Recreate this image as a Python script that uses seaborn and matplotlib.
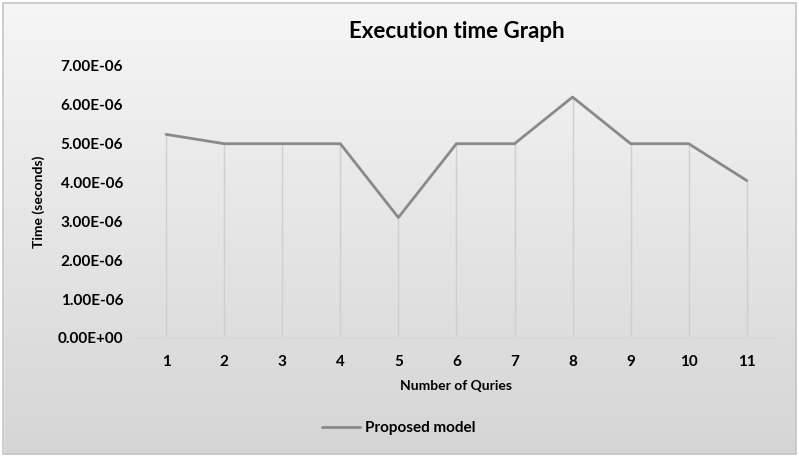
import numpy as np
import pandas as pd
import matplotlib
matplotlib.use("Agg")
import matplotlib.pyplot as plt
import matplotlib.ticker as ticker
from matplotlib.colors import LinearSegmentedColormap
from matplotlib.patches import Rectangle
import seaborn as sns

# Dados
queries = [1, 2, 3, 4, 5, 6, 7, 8, 9, 10, 11]
tempos = [5.24e-6, 5.0e-6, 5.0e-6, 5.0e-6, 3.1e-6, 5.0e-6, 5.0e-6, 6.2e-6, 5.0e-6, 5.0e-6, 4.05e-6]
y_ticks = [0, 1e-6, 2e-6, 3e-6, 4e-6, 5e-6, 6e-6, 7e-6]

df = pd.DataFrame({"Number of Quries": queries, "Time (seconds)": tempos})

sns.set_style("white")
plt.rcParams["font.family"] = ["Lato", "DejaVu Sans"]
plt.rcParams["text.color"] = "black"

fig = plt.figure(figsize=(7.99, 4.57), dpi=100)

# Fundo em degradê
bg = fig.add_axes([0, 0, 1, 1], zorder=-2)
grad = np.linspace(0, 1, 256).reshape(-1, 1)
cmap = LinearSegmentedColormap.from_list("bg", ["#f6f6f6", "#d5d5d5"])
bg.imshow(grad, aspect="auto", cmap=cmap, extent=[0, 1, 0, 1], origin="upper")
bg.set_xlim(0, 1)
bg.set_ylim(0, 1)
bg.axis("off")
# bordas brancas + moldura
for r in [Rectangle((0, 0), 1, 0.007, color="white"),
          Rectangle((0, 0.993), 1, 0.007, color="white"),
          Rectangle((0, 0), 0.004, 1, color="white"),
          Rectangle((0.996, 0), 0.004, 1, color="white")]:
    bg.add_patch(r)
bg.add_patch(Rectangle((0.004, 0.007), 0.992, 0.986, fill=False,
                       edgecolor="#c4c4c4", linewidth=1.2))

ax = fig.add_axes([0.1715, 0.2604, 0.7995, 0.5952])
ax.set_facecolor("none")

# Linhas verticais até o eixo
ax.vlines(df["Number of Quries"], 0, df["Time (seconds)"], color="#cfcfcf", linewidth=1)
sns.lineplot(data=df, x="Number of Quries", y="Time (seconds)", color="#8a8a8a",
             linewidth=2, ax=ax, label="Proposed model")

ax.set_xlim(0.5, 11.5)
ax.set_ylim(0, 7e-6)
ax.set_xticks(queries)
ax.set_yticks(y_ticks)
ax.yaxis.set_major_formatter(ticker.FuncFormatter(lambda v, _: f"{v:.2E}"))
ax.tick_params(axis="both", length=0, labelsize=11, labelcolor="black")
ax.tick_params(axis="x", pad=12)
ax.tick_params(axis="y", pad=10)
for lbl in ax.get_xticklabels() + ax.get_yticklabels():
    lbl.set_fontweight("bold")

for s in ["top", "right", "left"]:
    ax.spines[s].set_visible(False)
ax.spines["bottom"].set_color("#d9d9d9")
ax.spines["bottom"].set_linewidth(1.2)

ax.set_xlabel("Number of Quries", fontsize=10, fontweight="bold", labelpad=8, color="black")
ax.set_ylabel("Time (seconds)", fontsize=10, fontweight="bold", labelpad=9, color="black")
ax.set_title("Execution time Graph", fontsize=16, fontweight="bold", pad=20, color="black")

ax.legend(loc="upper center", bbox_to_anchor=(0.41, -0.255), frameon=False,
          prop={"weight": "bold", "size": 11}, handlelength=2.5, handletextpad=0.3,
          labelcolor="black")

fig.savefig("out.png", dpi=100)
